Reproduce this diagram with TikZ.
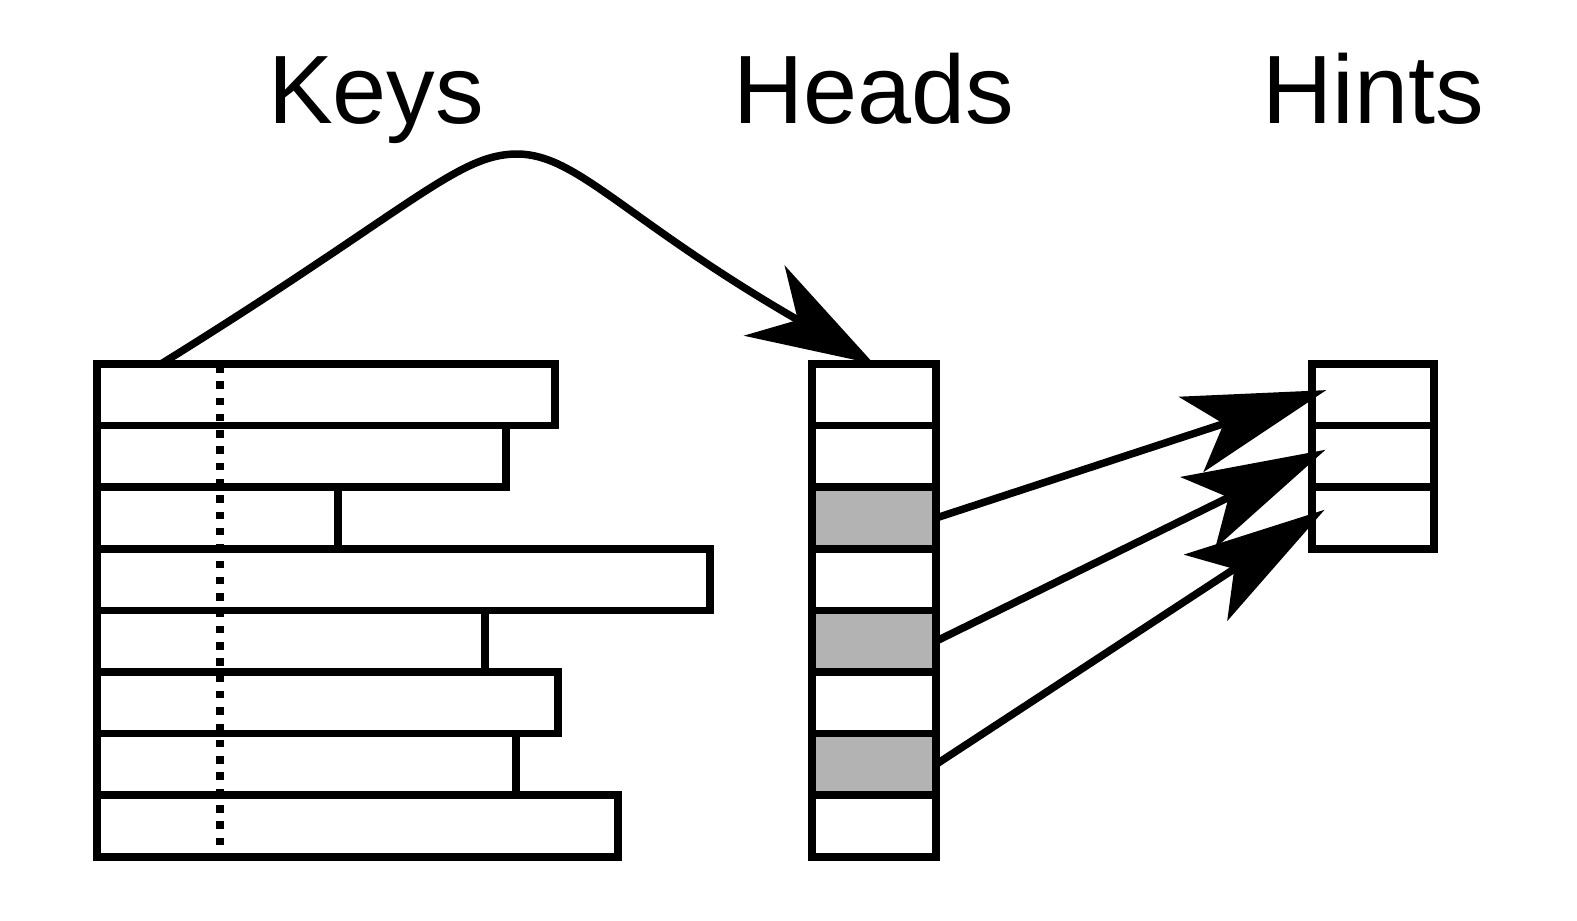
\documentclass[tikz,border=0pt]{standalone}
\usepackage{fontspec}
\setmainfont{Liberation Sans}
\usetikzlibrary{arrows.meta}
\definecolor{marked}{HTML}{B3B3B3}

\begin{document}
\begin{tikzpicture}[x=0.02cm, y=-0.02cm,
  cell/.style={draw, line width=0.15cm, inner sep=0pt, outer sep=0pt, anchor=north west, minimum height=1.232cm},
  title/.style={anchor=base, font=\fontsize{55.3pt}{62pt}\selectfont},
  link/.style={line width=0.15cm, -{Stealth[length=2.85cm, width=1.59cm, inset=0.69cm, line width=0pt]}},
]
  \useasboundingbox (0,0) rectangle (1577,920);

  \node[title] (keystitle) at (376,123) {Keys};
  \node[title] (headstitle) at (874,123) {Heads};
  \node[title] (hintstitle) at (1373,123) {Hints};

  % keys of different lengths
  \foreach \r [count=\i] in {555,506,338,710,485,558,516,618}
    \node[cell, minimum width=(\r-97)*0.02cm] (key\i) at (97,{364+61.6*(\i-1)}) {};
  \draw[line width=0.15cm, dash pattern=on 0.15cm off 0.176cm] (220,365) -- (220,846);

  % head slots, marked ones filled
  \foreach \i in {1,...,8}
    \node[cell, minimum width=2.48cm] (head\i) at (812,{364+61.6*(\i-1)}) {};
  \foreach \i in {3,5,7}
    \node[cell, fill=marked, minimum width=2.48cm] at (head\i.north west) {};

  \foreach \i in {1,2,3}
    \node[cell, minimum width=2.44cm] (hint\i) at (1312,{364+61.6*(\i-1)}) {};

  \coordinate (lift) at ([xshift=1.28cm]key1.north west);
  \draw[link, -{Stealth[length=2.54cm, width=1.63cm, inset=0.78cm, line width=0pt]}]
    (lift) .. controls (411,209) and (457,154) .. (517,154)
    .. controls (577,154) and (625,220) .. (head1.north);

  \foreach \h/\t in {3/1,5/2,7/3}
    \draw[link, shorten >=-0.3cm] (head\h.east) -- (hint\t.west);
\end{tikzpicture}
\end{document}
